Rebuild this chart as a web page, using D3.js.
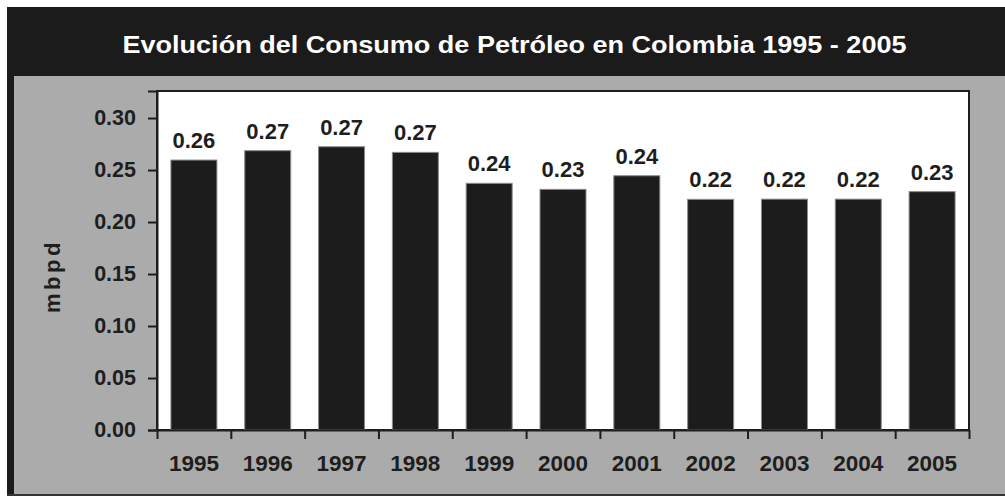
<!DOCTYPE html>
<html>
<head>
<meta charset="utf-8">
<script src="https://cdn.jsdelivr.net/npm/d3@7/dist/d3.min.js"></script>
<style>
  html, body { margin: 0; padding: 0; background: #ffffff; }
  svg { display: block; font-family: "Liberation Sans", Arial, sans-serif; }
</style>
</head>
<body>
<svg id="chart" width="1005" height="496"></svg>
<script>
const titleText = "Evolución del Consumo de Petróleo en Colombia 1995 - 2005";
const yAxisLabel = "mbpd";
const years = ["1995","1996","1997","1998","1999","2000","2001","2002","2003","2004","2005"];
const consumo = [0.2596, 0.2686, 0.2724, 0.2670, 0.2372, 0.2314, 0.2445, 0.2218, 0.2220, 0.2220, 0.2292];
const yTicks = [0.00, 0.05, 0.10, 0.15, 0.20, 0.25, 0.30];

const svg = d3.select("#chart");

// frame
svg.append("rect").attr("x", 7).attr("y", 7).attr("width", 998).attr("height", 489).attr("fill", "#1b1b1b");
svg.append("rect").attr("x", 14).attr("y", 76).attr("width", 991).attr("height", 418).attr("fill", "#ababab");

// title
svg.append("text")
  .attr("x", 514.5).attr("y", 53)
  .attr("text-anchor", "middle")
  .attr("fill", "#ffffff")
  .attr("font-weight", "bold")
  .attr("font-size", 23.5)
  .attr("textLength", 784)
  .attr("lengthAdjust", "spacingAndGlyphs")
  .text(titleText);

const plot = { left: 157, right: 969, top: 91, bottom: 430 };

const x = d3.scaleBand().domain(years).range([plot.left, plot.right])
  .paddingInner(0.377).paddingOuter(0.1885);
const xb = d3.scaleLinear().domain([0, years.length]).range([plot.left, plot.right]);
const y = d3.scaleLinear().domain([0, 0.326]).range([plot.bottom, plot.top]);

// plot area
svg.append("rect")
  .attr("x", plot.left).attr("y", plot.top)
  .attr("width", plot.right - plot.left).attr("height", plot.bottom - plot.top)
  .attr("fill", "#ffffff").attr("stroke", "#1e1e1e").attr("stroke-width", 2);

// bars
svg.append("g").selectAll("rect").data(years).join("rect")
  .attr("x", d => x(d))
  .attr("y", (d, i) => y(consumo[i]))
  .attr("width", x.bandwidth())
  .attr("height", (d, i) => y(0) - y(consumo[i]))
  .attr("fill", "#1c1c1c")
  .attr("stroke", "#8a8a8a").attr("stroke-width", 1);

// value labels
svg.append("g").selectAll("text").data(years).join("text")
  .attr("x", d => x(d) + x.bandwidth() / 2)
  .attr("y", (d, i) => y(consumo[i]) - 12)
  .attr("text-anchor", "middle")
  .attr("font-weight", "bold")
  .attr("font-size", 22)
  .attr("fill", "#1e1e1e")
  .text((d, i) => d3.format(".2f")(consumo[i]));

// y axis
const yAxis = svg.append("g").attr("transform", `translate(${plot.left},0)`)
  .call(d3.axisLeft(y).tickValues(yTicks).tickFormat(d3.format(".2f")).tickSize(9).tickPadding(12));
yAxis.select(".domain").attr("stroke", "#1e1e1e").attr("stroke-width", 2);
yAxis.selectAll(".tick line").attr("stroke", "#1e1e1e").attr("stroke-width", 2);
yAxis.selectAll(".tick text").attr("font-size", 21.5).attr("font-weight", "bold").attr("fill", "#1e1e1e")
  .attr("font-family", "Liberation Sans, Arial, sans-serif");

// x axis ticks at category boundaries
const xAxis = svg.append("g").attr("transform", `translate(0,${plot.bottom})`)
  .call(d3.axisBottom(xb).tickValues(d3.range(years.length + 1)).tickFormat("").tickSize(9).tickSizeOuter(0));
xAxis.select(".domain").attr("stroke", "#1e1e1e").attr("stroke-width", 2);
xAxis.selectAll(".tick line").attr("stroke", "#1e1e1e").attr("stroke-width", 2);

// x labels
svg.append("g").selectAll("text").data(years).join("text")
  .attr("x", d => x(d) + x.bandwidth() / 2)
  .attr("y", 471)
  .attr("text-anchor", "middle")
  .attr("font-weight", "bold")
  .attr("font-size", 22.5)
  .attr("fill", "#1e1e1e")
  .text(d => d);

// y axis label
svg.append("text")
  .attr("transform", "translate(60,276) rotate(-90)")
  .attr("text-anchor", "middle")
  .attr("font-weight", "bold")
  .attr("font-size", 22)
  .attr("letter-spacing", 3.5)
  .attr("fill", "#1e1e1e")
  .text(yAxisLabel);

// bottom line
svg.append("rect").attr("x", 7).attr("y", 494).attr("width", 998).attr("height", 2).attr("fill", "#333333");
</script>
</body>
</html>
